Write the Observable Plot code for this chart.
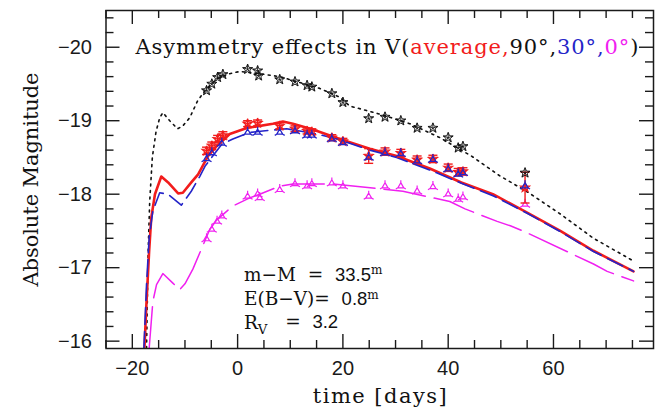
<!DOCTYPE html>
<html><head><meta charset="utf-8">
<script src="https://cdn.jsdelivr.net/npm/d3@7"></script>
<script src="https://cdn.jsdelivr.net/npm/@observablehq/plot@0.6"></script>
<style>body{margin:0;background:#fff}svg{display:block}</style>
</head><body><div id="chart"></div>
<script>
// ---------- data (time [days], absolute V magnitude) ----------
const xMajorTicks = [-20, 0, 20, 40, 60];
const yMajorTicks = [-20, -19, -18, -17, -16];

// model light curves
const model90 = [[-17.3,-15.9],[-17.0,-17.2],[-16.7,-17.9],[-16.2,-18.5],[-15.5,-18.85],[-14.8,-19.04],[-14.2,-19.11],[-12.9,-19.0],[-11.4,-18.89],[-10.4,-18.93],[-9.1,-19.04],[-7.6,-19.27],[-6.2,-19.41],[-4.0,-19.57],[-1.5,-19.64],[0.4,-19.67],[4.2,-19.64],[8.0,-19.6],[11.8,-19.52],[15.6,-19.44],[19.4,-19.32],[21.3,-19.2],[27,-19.09],[32.7,-18.96],[38.4,-18.77],[44.4,-18.52],[49.8,-18.25],[55.3,-18.02],[61.3,-17.73],[67.6,-17.4],[75.2,-17.09]];
const modelAvg = [[-17.7,-15.9],[-17.3,-16.54],[-16.8,-17.23],[-16.4,-17.68],[-15.7,-18.0],[-14.5,-18.24],[-13.2,-18.16],[-11.3,-18.01],[-10.4,-18.02],[-8.8,-18.16],[-7.5,-18.27],[-5.6,-18.52],[-3.9,-18.66],[-1.5,-18.82],[1.75,-18.9],[6.7,-18.96],[8.6,-18.99],[10.5,-18.96],[14.3,-18.88],[19.4,-18.75],[25.1,-18.62],[30.2,-18.52],[36.5,-18.35],[42.5,-18.16],[48.5,-18.0],[55,-17.75],[61.3,-17.5],[67.6,-17.23],[75.2,-16.95]];
const model30 = [[-17.8,-15.9],[-17.3,-16.77],[-16.8,-17.41],[-16.1,-17.77],[-14.8,-18.02],[-13.2,-18.0],[-10.7,-17.85],[-8.8,-18.04],[-7.2,-18.24],[-6.2,-18.38],[-3.0,-18.68],[-0.9,-18.75],[2.3,-18.84],[4.8,-18.86],[9.3,-18.89],[11.8,-18.86],[15,-18.82],[19.4,-18.74],[25.1,-18.6],[30.2,-18.5],[36.5,-18.33],[42.5,-18.15],[48.5,-17.98],[55,-17.74],[61.3,-17.49],[67.6,-17.22],[75.2,-16.95]];
const model0 = [[-16.8,-15.9],[-16.1,-16.54],[-15.4,-16.77],[-14.2,-16.92],[-12.3,-16.79],[-11,-16.7],[-10,-16.78],[-8.5,-16.98],[-5.3,-17.52],[-3.95,-17.65],[-0.9,-17.84],[2.3,-17.95],[4.2,-18.0],[8,-18.11],[10.5,-18.14],[18.1,-18.14],[27.6,-18.07],[31.4,-18.04],[40.3,-17.9],[43.2,-17.8],[49.3,-17.63],[51.8,-17.57],[54.2,-17.5],[67.6,-17.05],[70.2,-16.95],[75.2,-16.82]];

// observations
const obs90 = [[-5.9,-19.41],[-4.9,-19.50],[-3.8,-19.59],[-2.8,-19.63],[1.9,-19.70],[3.8,-19.68],[4.0,-19.61],[8.0,-19.56],[10.9,-19.53],[13.2,-19.48],[14.1,-19.46],[17.9,-19.37],[20.0,-19.25],[24.9,-19.03],[28.0,-19.05],[31.0,-19.00],[34.1,-18.90],[37.1,-18.90],[40.0,-18.77],[41.9,-18.63],[42.8,-18.65],[54.6,-18.29]];
const obsAvg = [[-5.9,-18.59,0.05],[-4.9,-18.66,0.05],[-3.8,-18.75,0.05],[-2.8,-18.80,0.05],[1.9,-18.96,0.04],[3.8,-18.97,0.04],[8.0,-18.93,0.04],[10.9,-18.89,0.04],[13.2,-18.86,0.04],[14.1,-18.85,0.04],[17.9,-18.77,0.04],[20.0,-18.72,0.04],[24.9,-18.52,0.1],[28.0,-18.58,0.05],[31.0,-18.56,0.05],[34.1,-18.47,0.05],[37.1,-18.48,0.05],[40.0,-18.36,0.05],[41.9,-18.30,0.05],[42.8,-18.31,0.05],[54.6,-18.09,0.21]];
const obs30 = [[-5.9,-18.48],[-4.9,-18.56],[-3.0,-18.69],[1.9,-18.84],[3.8,-18.84],[8.0,-18.84],[10.9,-18.86],[13.2,-18.80],[14.1,-18.80],[17.9,-18.75],[20.0,-18.70],[24.9,-18.50],[28.0,-18.56],[31.0,-18.55],[34.1,-18.45],[37.1,-18.47],[40.0,-18.34],[41.9,-18.27],[42.8,-18.29],[54.6,-18.11]];
const obs0 = [[-5.9,-17.39],[-4.9,-17.52],[-3.9,-17.63],[-3.0,-17.70],[1.9,-17.97],[3.8,-18.00],[4.2,-17.95],[8.0,-18.06],[10.9,-18.14],[13.2,-18.11],[14.1,-18.14],[17.9,-18.15],[20.0,-18.11],[24.9,-17.97],[28.0,-18.11],[31.0,-18.11],[34.1,-18.04],[37.1,-18.10],[40.0,-18.00],[41.9,-17.93],[42.8,-17.96],[54.6,-17.86]];

const titleParts = ["Asymmetry effects in V(", "average,", "90°,", "30°,", "0°", ")"];
const distModulus = "33.5", colorExcess = "0.8", rv = "3.2";
const xLabel = "time [days]", yLabel = "Absolute Magnitude";

// ---------- styles ----------
const RED = "#f21c1c", BLUE = "#2424c8", MAG = "#f020f0", INK = "#1a1a1a";
const titleColors = ["#111", RED, "#111", BLUE, MAG, "#111"];
const SERIF = "DejaVu Serif", SANS = "Liberation Sans";

const W = 665, H = 416, mL = 105.5, mR = 12, mT = 10, mB = 68;
const pw = W - mL - mR, ph = H - mT - mB;

const star = {draw(ctx, size) {
  const r = Math.sqrt(size / Math.PI);
  for (let i = 0; i < 5; i++) { const a = -Math.PI/2 + i*2*Math.PI/5;
    ctx.moveTo(0, 0); ctx.lineTo(r*Math.cos(a), r*Math.sin(a)); }
  for (let i = 0; i <= 10; i++) { const a = -Math.PI/2 + i*Math.PI/5, rr = i % 2 ? r*0.45 : r;
    const px = rr*Math.cos(a), py = rr*Math.sin(a); i ? ctx.lineTo(px, py) : ctx.moveTo(px, py); }
}};
const tri = {draw(ctx, size) {
  const r = Math.sqrt(size / Math.PI);
  const v = [0,1,2].map(i => -Math.PI/2 + i*2*Math.PI/3);
  v.forEach((a, i) => { const px = 0.75*r*Math.cos(a), py = 0.75*r*Math.sin(a); i ? ctx.lineTo(px, py) : ctx.moveTo(px, py); });
  ctx.closePath();
  v.forEach(a => { ctx.moveTo(0.75*r*Math.cos(a), 0.75*r*Math.sin(a)); ctx.lineTo(1.25*r*Math.cos(a), 1.25*r*Math.sin(a)); });
}};
const cap = {draw(ctx) { ctx.moveTo(-4.5, 0); ctx.lineTo(4.5, 0); }};

const xMinor = d3.range(-25, 80, 5).filter(v => !xMajorTicks.includes(v));
const yMinor = d3.range(-20.4, -15.9, 0.2).map(v => +v.toFixed(1)).filter(v => !yMajorTicks.includes(v));

const X = d => d[0], Y = d => d[1];
const tickStyle = {stroke: INK, strokeWidth: 1.4};
const fmt = d3.format("d");

const svg = Plot.plot({
  width: W, height: H, marginLeft: mL, marginRight: mR, marginTop: mT, marginBottom: mB,
  x: {domain: [-25, 79], label: null},
  y: {domain: [-15.9, -20.5], label: null},
  style: {background: "#fff", color: INK},
  marks: [
    // ticks on all four sides, inward
    Plot.tickX(xMajorTicks, {x: d => d, insetTop: ph - 14, ...tickStyle}),
    Plot.tickX(xMajorTicks, {x: d => d, insetBottom: ph - 14, ...tickStyle}),
    Plot.tickX(xMinor, {x: d => d, insetTop: ph - 8, ...tickStyle}),
    Plot.tickX(xMinor, {x: d => d, insetBottom: ph - 8, ...tickStyle}),
    Plot.tickY(yMajorTicks, {y: d => d, insetRight: pw - 14, ...tickStyle}),
    Plot.tickY(yMajorTicks, {y: d => d, insetLeft: pw - 14, ...tickStyle}),
    Plot.tickY(yMinor, {y: d => d, insetRight: pw - 8, ...tickStyle}),
    Plot.tickY(yMinor, {y: d => d, insetLeft: pw - 8, ...tickStyle}),
    Plot.axisX(xMajorTicks, {tickSize: 0, tickPadding: 12, tickFormat: fmt, fontSize: 20, fontFamily: SANS, fill: INK, label: null}),
    Plot.axisY(yMajorTicks, {tickSize: 0, tickPadding: 14, tickFormat: fmt, fontSize: 20, fontFamily: SANS, fill: INK, label: null}),
    // model curves
    Plot.line(model90, {x: X, y: Y, stroke: "#111", strokeWidth: 1.6, strokeDasharray: "2,4.5", clip: true}),
    Plot.line(model0, {x: X, y: Y, stroke: MAG, strokeWidth: 1.5, strokeDasharray: "42,9", clip: true}),
    Plot.line(modelAvg, {x: X, y: Y, stroke: RED, strokeWidth: 2.6, clip: true}),
    Plot.line(model30, {x: X, y: Y, stroke: BLUE, strokeWidth: 1.6, strokeDasharray: "17,7", clip: true}),
    // observations
    Plot.dot(obs0, {x: X, y: Y, symbol: tri, r: 4.6, stroke: MAG, strokeWidth: 1.2, fill: "none"}),
    Plot.ruleX(obsAvg, {x: X, y1: d => d[1] - d[2], y2: d => d[1] + d[2], stroke: RED, strokeWidth: 1.4}),
    Plot.dot(obsAvg, {x: X, y: d => d[1] - d[2], symbol: cap, stroke: RED, strokeWidth: 1.4}),
    Plot.dot(obsAvg, {x: X, y: d => d[1] + d[2], symbol: cap, stroke: RED, strokeWidth: 1.4}),
    Plot.dot(obsAvg, {x: X, y: Y, symbol: star, r: 5, stroke: RED, strokeWidth: 1.1, fill: "none"}),
    Plot.dot(obs30, {x: X, y: Y, symbol: tri, r: 4.6, stroke: BLUE, strokeWidth: 1.3, fill: "none"}),
    Plot.dot(obs90, {x: X, y: Y, symbol: star, r: 5.2, stroke: "#111", strokeWidth: 0.9, fill: "none"}),
    // texts
    Plot.text([titleParts.join("")], {x: -19.4, y: -19.91, text: d => d, textAnchor: "start", lineAnchor: "bottom", fontSize: 21, fontFamily: SERIF, fill: "#111"}),
    Plot.text(["ANN1"], {x: 1.2, y: -16.82, text: d => d, textAnchor: "start", lineAnchor: "bottom", fontSize: 18.5, fontFamily: SERIF, fill: "#111"}),
    Plot.text(["ANN2"], {x: 1.2, y: -16.49, text: d => d, textAnchor: "start", lineAnchor: "bottom", fontSize: 18.5, fontFamily: SERIF, fill: "#111"}),
    Plot.text(["ANN3"], {x: 1.2, y: -16.16, text: d => d, textAnchor: "start", lineAnchor: "bottom", fontSize: 18.5, fontFamily: SERIF, fill: "#111"}),
    Plot.text([xLabel], {frameAnchor: "bottom", text: d => d, dy: 54, fontSize: 21, fontFamily: SERIF, fill: "#111", lineAnchor: "bottom"}),
    Plot.text([yLabel], {frameAnchor: "left", text: d => d, dx: -75, rotate: -90, textAnchor: "middle", fontSize: 21, fontFamily: SERIF, fill: "#111"}),
    Plot.frame({stroke: INK, strokeWidth: 1.5})
  ]
});
document.getElementById("chart").appendChild(svg);

// ---------- rich text (colored title parts, superscripts, subscript) ----------
const root = d3.select(svg);
const findText = s => root.selectAll("text").filter(function() { return this.textContent === s; });

const tt = findText(titleParts.join(""));
tt.text(null).attr("textLength", 503).attr("lengthAdjust", "spacing");
titleParts.forEach((p, i) => tt.append("tspan").attr("fill", titleColors[i]).text(p));

findText(xLabel).attr("textLength", 134).attr("lengthAdjust", "spacing");
findText(yLabel).attr("textLength", 214).attr("lengthAdjust", "spacing");

function annotate(key, parts) {
  const t = findText(key);
  t.text(null).style("white-space", "pre");
  parts.forEach(p => {
    const s = t.append("tspan").text(p.s);
    if (p.sans) s.attr("font-family", SANS);
    if (p.sup) s.attr("dy", "-0.55em").attr("font-size", "0.65em");
    if (p.sub) s.attr("dy", "0.32em").attr("font-size", "0.72em");
    if (p.back) s.attr("dy", "-0.32em");
  });
}
annotate("ANN1", [{s: "m−M  =  "}, {s: distModulus, sans: true}, {s: "m", sup: true}]);
annotate("ANN2", [{s: "E(B−V)=  "}, {s: colorExcess, sans: true}, {s: "m", sup: true}]);
annotate("ANN3", [{s: "R"}, {s: "V", sub: true}, {s: "   =  ", back: true}, {s: rv, sans: true}]);
</script></body></html>
